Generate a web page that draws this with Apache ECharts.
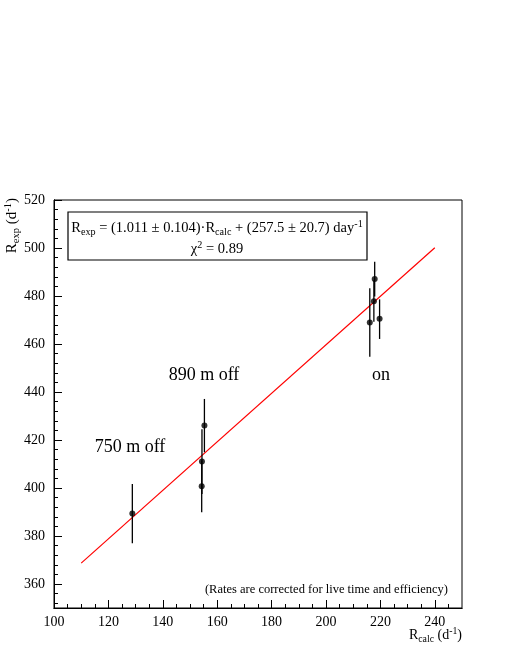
<!DOCTYPE html>
<html>
<head>
<meta charset="utf-8">
<script src="https://cdn.jsdelivr.net/npm/echarts@6/dist/echarts.min.js"></script>
<style>
  html, body { margin: 0; padding: 0; background: #fff; }
  #chart { width: 512px; height: 663px; }
</style>
</head>
<body>
<div id="chart"></div>
<script>
// measured points: R_calc, R_exp, lower and upper end of the error bar
const calcRate = [128.8, 154.3, 154.4, 155.3, 216.1, 217.6, 217.9, 219.7];
const expRate = [389.4, 400.7, 411.0, 426.0, 469.0, 477.8, 487.1, 470.5];
const errLow = [377.0, 389.9, 397.5, 414.9, 454.7, 469.3, 479.8, 462.1];
const errHigh = [401.7, 411.5, 424.5, 437.1, 483.2, 486.6, 494.3, 478.6];

// fitted line ends
const fitX = [110, 240];
const fitY = [368.7, 500.1];

// ticks
const xMajor = [100, 120, 140, 160, 180, 200, 220, 240];
const xMinor = [105, 110, 115, 125, 130, 135, 145, 150, 155, 165, 170, 175, 185, 190, 195, 205, 210, 215, 225, 230, 235, 245];
const yMajor = [360, 380, 400, 420, 440, 460, 480, 500, 520];
const yMinor = [352, 356, 364, 368, 372, 376, 384, 388, 392, 396, 404, 408, 412, 416, 424, 428, 432, 436, 444, 448, 452, 456, 464, 468, 472, 476, 484, 488, 492, 496, 504, 508, 512, 516];

const serif = "Liberation Serif";
let points = calcRate.map((x, i) => [x, expRate[i]]);
let bars = calcRate.map((x, i) => [x, errLow[i], errHigh[i]]);
let fitLine = fitX.map((x, i) => [x, fitY[i]]);

let myChart = echarts.init(document.getElementById("chart"));

function xAxisOf(ticks, len, labels) {
  return {
    type: "value",
    min: 100,
    max: 250,
    position: "bottom",
    splitLine: { show: false },
    axisLine: { show: true, lineStyle: { color: "#000", width: 1 } },
    axisTick: { show: true, inside: true, length: len, customValues: ticks, lineStyle: { color: "#000" } },
    axisLabel: labels
      ? { show: true, customValues: ticks, margin: 7, color: "#000", fontFamily: serif, fontSize: 14 }
      : { show: false },
  };
}

function yAxisOf(ticks, len, labels) {
  return {
    type: "value",
    min: 350,
    max: 520,
    position: "left",
    splitLine: { show: false },
    axisLine: { show: true, lineStyle: { color: "#000", width: 1 } },
    axisTick: { show: true, inside: true, length: len, customValues: ticks, lineStyle: { color: "#000" } },
    axisLabel: labels
      ? { show: true, customValues: ticks, margin: 9, color: "#000", fontFamily: serif, fontSize: 14 }
      : { show: false },
  };
}

function richOf(size) {
  return {
    n: { fontFamily: serif, fontSize: size, color: "#000" },
    sub: { fontFamily: serif, fontSize: size * 0.7, color: "#000", padding: [size * 0.6, 0, 0, 0] },
    sup: { fontFamily: serif, fontSize: size * 0.7, color: "#000", padding: [0, 0, size * 0.55, 0] },
  };
}

myChart.setOption({
  animation: false,
  grid: {
    left: 54,
    right: 50,
    top: 200,
    bottom: 55,
    show: true,
    borderColor: "#000",
    borderWidth: 1,
    backgroundColor: "transparent",
  },
  xAxis: [xAxisOf(xMajor, 8, true), xAxisOf(xMinor, 4, false)],
  yAxis: [yAxisOf(yMajor, 8, true), yAxisOf(yMinor, 4, false)],
  series: [
    {
      name: "fit",
      type: "line",
      data: fitLine,
      showSymbol: false,
      lineStyle: { color: "#ff0000", width: 1.2 },
      z: 2,
    },
    {
      name: "errors",
      type: "custom",
      data: bars,
      renderItem: function (params, api) {
        let lo = api.coord([api.value(0), api.value(1)]);
        let hi = api.coord([api.value(0), api.value(2)]);
        return {
          type: "line",
          shape: { x1: lo[0], y1: lo[1], x2: hi[0], y2: hi[1] },
          style: { stroke: "#000", lineWidth: 1.3 },
        };
      },
      z: 3,
    },
    {
      name: "data",
      type: "scatter",
      data: points,
      symbol: "circle",
      symbolSize: 6,
      itemStyle: { color: "#000" },
      z: 4,
    },
  ],
  graphic: [
    {
      type: "rect",
      shape: { x: 68, y: 212, width: 299, height: 48 },
      style: { fill: "#fff", stroke: "#000", lineWidth: 1.2 },
      z: 10,
    },
    {
      type: "text",
      x: 217,
      y: 228,
      style: {
        text: "{n|R}{sub|exp}{n| = (1.011 ± 0.104)·R}{sub|calc}{n| + (257.5 ± 20.7) day}{sup|-1}",
        rich: richOf(14.5),
        align: "center",
        verticalAlign: "middle",
      },
      z: 11,
    },
    {
      type: "text",
      x: 217,
      y: 249,
      style: {
        text: "{n|χ}{sup|2}{n| = 0.89}",
        rich: richOf(14.5),
        align: "center",
        verticalAlign: "middle",
      },
      z: 11,
    },
    {
      type: "text",
      x: 130,
      y: 447,
      style: { text: "750 m off", fontFamily: serif, fontSize: 18, fill: "#000", align: "center", verticalAlign: "middle" },
    },
    {
      type: "text",
      x: 204,
      y: 375,
      style: { text: "890 m off", fontFamily: serif, fontSize: 18, fill: "#000", align: "center", verticalAlign: "middle" },
    },
    {
      type: "text",
      x: 381,
      y: 375,
      style: { text: "on", fontFamily: serif, fontSize: 18, fill: "#000", align: "center", verticalAlign: "middle" },
    },
    {
      type: "text",
      x: 448,
      y: 590,
      style: {
        text: "(Rates are corrected for live time and efficiency)",
        fontFamily: serif,
        fontSize: 12.5,
        fill: "#000",
        align: "right",
        verticalAlign: "middle",
      },
    },
    {
      type: "text",
      x: 462,
      y: 635,
      style: {
        text: "{n|R}{sub|calc}{n| (d}{sup|-1}{n|)}",
        rich: richOf(14),
        align: "right",
        verticalAlign: "middle",
      },
    },
    {
      type: "text",
      x: 12,
      y: 198,
      rotation: Math.PI / 2,
      style: {
        text: "{n|R}{sub|exp}{n| (d}{sup|-1}{n|)}",
        rich: richOf(15),
        align: "right",
        verticalAlign: "middle",
      },
    },
  ],
});
</script>
</body>
</html>
